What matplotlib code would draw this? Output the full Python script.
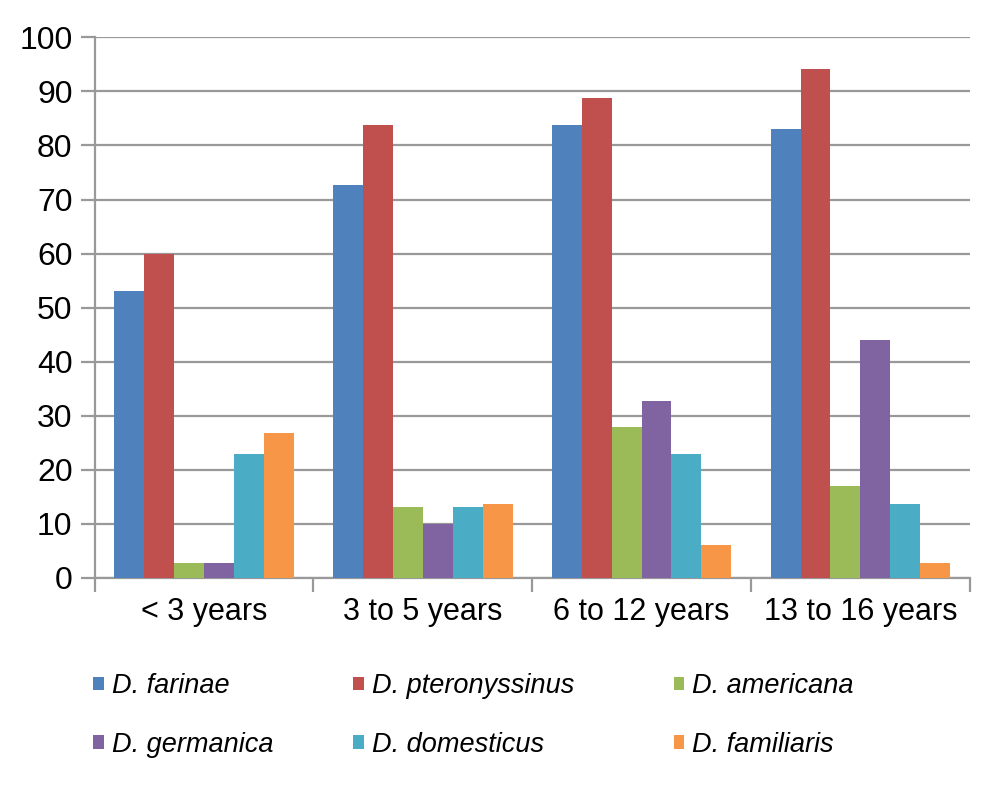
import numpy as np
import matplotlib
matplotlib.use('Agg')
import matplotlib.pyplot as plt

plt.rcParams['font.family'] = ['Liberation Sans', 'DejaVu Sans']

# grupos de edad y especies
edades = ['< 3 years', '3 to 5 years', '6 to 12 years', '13 to 16 years']
especies = ['D. farinae', 'D. pteronyssinus', 'D. americana',
            'D. germanica', 'D. domesticus', 'D. familiaris']

farinae = [53, 72.7, 83.8, 83.1]
pteronyssinus = [60, 83.7, 88.8, 94.2]
americana = [2.7, 13.1, 27.9, 17.0]
germanica = [2.7, 9.9, 32.8, 44.0]
domesticus = [22.9, 13.1, 22.9, 13.7]
familiaris = [26.9, 13.7, 6.1, 2.8]

valores = [farinae, pteronyssinus, americana, germanica, domesticus, familiaris]
colores = ['#4F81BD', '#C0504D', '#9BBB59', '#8064A2', '#4BACC6', '#F79646']

fig = plt.figure(figsize=(10.08, 7.95), dpi=100)
ax = fig.add_axes([0.094, 0.273, 0.868, 0.68])

x = np.arange(len(edades))
ancho = 0.82 / 6
barras = []
for i, (vals, col) in enumerate(zip(valores, colores)):
    b = ax.bar(x - 0.41 + ancho * (i + 0.5), vals, ancho, color=col,
               label=especies[i], zorder=3)
    barras.append(b)

gris = '#999999'
ax.set_ylim(0, 100)
ax.set_xlim(-0.5, len(edades) - 0.5)
ax.set_yticks(range(0, 101, 10))
ax.yaxis.grid(True, color=gris, linewidth=1.6, zorder=0)
ax.set_axisbelow(True)

ax.set_xticks(x)
ax.set_xticklabels(edades, fontsize=22)
ax.set_xticks(np.arange(-0.5, len(edades), 1), minor=True)
ax.tick_params(axis='x', which='major', length=0, pad=14)
ax.tick_params(axis='x', which='minor', length=10, width=1.6, color=gris)
ax.tick_params(axis='y', labelsize=23, length=10, width=1.6, color=gris, pad=6)

for lado in ['top', 'right']:
    ax.spines[lado].set_visible(False)
for lado in ['left', 'bottom']:
    ax.spines[lado].set_color(gris)
    ax.spines[lado].set_linewidth(1.6)

# leyenda: una columna por leyenda, filas como en el original
columnas_x = [0.068, 0.326, 0.644]
for c, xc in enumerate(columnas_x):
    idx = [c, c + 3]
    fig.legend([barras[i] for i in idx], [especies[i] for i in idx],
               ncol=1, loc='upper left', bbox_to_anchor=(xc, 0.184),
               frameon=False, prop={'style': 'italic', 'size': 19.5},
               handlelength=0.4, handleheight=0.4, handletextpad=0.3,
               labelspacing=1.2)

plt.savefig('out.png', dpi=100)
